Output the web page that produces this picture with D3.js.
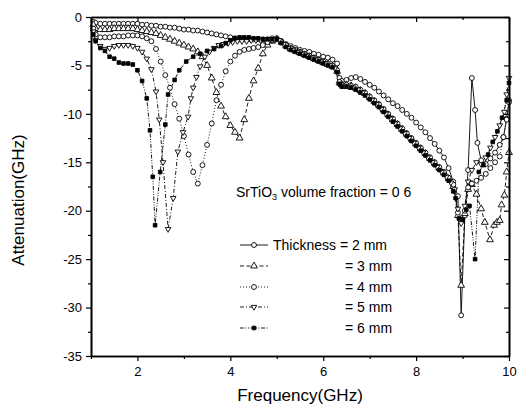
<!DOCTYPE html>
<html><head><meta charset="utf-8">
<script src="https://cdn.jsdelivr.net/npm/d3@7"></script>
<style>body{margin:0;background:#fff}svg{display:block}text{font-family:"Liberation Sans",Arial,sans-serif;fill:#000}</style>
</head><body><svg id="c" width="519" height="411"></svg>
<script>
// ---- data (frequency GHz, attenuation) ----
const seriesNames = ["2 mm","3 mm","4 mm","5 mm","6 mm"];
const xTicks = [2,4,6,8,10];
const yTicks = [0,-5,-10,-15,-20,-25,-30,-35];
const xTickLabels = ["2","4","6","8","10"];
const yTickLabels = ["0","-5","-10","-15","-20","-25","-30","-35"];
const legendLabels = ["Thickness = 2 mm","= 3 mm","= 4 mm","= 5 mm","= 6 mm"];

const t2mm = [[1.05,-0.5],[1.1,-0.6],[1.2,-0.7],[1.3,-0.7],[1.4,-0.7],[1.5,-0.7],[1.6,-0.7],[1.7,-0.7],[1.8,-0.7],[1.9,-0.7],[2.0,-0.7],[2.1,-0.8],[2.2,-0.8],[2.3,-0.9],[2.4,-0.9],[2.5,-1.0],[2.6,-1.0],[2.7,-1.1],[2.8,-1.1],[2.9,-1.2],[3.0,-1.3],[3.1,-1.3],[3.2,-1.4],[3.3,-1.4],[3.4,-1.5],[3.5,-1.6],[3.6,-1.7],[3.7,-1.8],[3.8,-1.9],[3.9,-2.0],[4.0,-2.1],[4.1,-2.2],[4.2,-2.3],[4.3,-2.3],[4.4,-2.3],[4.5,-2.3],[4.6,-2.3],[4.7,-2.3],[4.8,-2.3],[4.9,-2.2],[5.0,-2.2],[5.1,-2.5],[5.2,-2.8],[5.3,-3.0],[5.4,-3.2],[5.5,-3.4],[5.6,-3.5],[5.7,-3.6],[5.8,-3.8],[5.9,-3.9],[6.0,-4.1],[6.1,-4.2],[6.2,-4.4],[6.3,-4.8],[6.35,-6.3],[6.4,-6.6],[6.5,-6.5],[6.6,-6.3],[6.7,-6.2],[6.8,-6.4],[6.9,-6.7],[7.0,-7.0],[7.1,-7.3],[7.2,-7.7],[7.3,-8.1],[7.4,-8.5],[7.5,-8.9],[7.6,-9.2],[7.7,-9.6],[7.8,-10.0],[7.9,-10.4],[8.0,-10.9],[8.1,-11.4],[8.2,-11.9],[8.3,-12.5],[8.4,-13.1],[8.5,-13.8],[8.6,-14.5],[8.7,-15.6],[8.8,-17.0],[8.9,-18.5],[8.97,-30.8],[9.05,-20.5],[9.12,-15.8],[9.2,-6.3],[9.27,-9.6],[9.32,-13.0],[9.4,-14.8],[9.5,-15.2],[9.6,-14.6],[9.7,-14.0],[9.8,-13.2],[9.88,-12.4],[9.95,-10.5],[10.0,-8.6]];

const t3mm = [[1.05,-0.8],[1.1,-1.2],[1.2,-1.3],[1.3,-1.3],[1.4,-1.3],[1.5,-1.2],[1.6,-1.2],[1.7,-1.2],[1.8,-1.2],[1.9,-1.2],[2.0,-1.3],[2.1,-1.4],[2.2,-1.5],[2.3,-1.6],[2.4,-1.7],[2.5,-1.9],[2.6,-2.1],[2.7,-2.3],[2.8,-2.5],[2.9,-2.7],[3.0,-2.9],[3.1,-3.1],[3.2,-3.3],[3.3,-3.6],[3.4,-4.1],[3.5,-5.0],[3.6,-6.3],[3.7,-7.8],[3.8,-9.2],[3.9,-10.3],[4.0,-11.2],[4.1,-11.9],[4.2,-12.5],[4.3,-10.6],[4.4,-8.4],[4.5,-6.6],[4.6,-5.3],[4.7,-3.8],[4.8,-2.9],[4.9,-2.5],[5.0,-2.3],[5.1,-2.6],[5.2,-3.0],[5.3,-3.3],[5.4,-3.5],[5.5,-3.7],[5.6,-3.9],[5.7,-4.1],[5.8,-4.3],[5.9,-4.5],[6.0,-4.7],[6.1,-4.9],[6.2,-5.1],[6.3,-5.6],[6.35,-6.8],[6.4,-7.0],[6.5,-7.0],[6.6,-7.1],[6.7,-7.3],[6.8,-7.6],[6.9,-7.9],[7.0,-8.3],[7.1,-8.7],[7.2,-9.1],[7.3,-9.6],[7.4,-10.1],[7.5,-10.6],[7.6,-11.1],[7.7,-11.6],[7.8,-12.1],[7.9,-12.6],[8.0,-13.1],[8.1,-13.6],[8.2,-14.1],[8.3,-14.6],[8.4,-15.1],[8.5,-15.6],[8.6,-16.1],[8.7,-16.7],[8.8,-17.5],[8.9,-20.5],[8.97,-27.7],[9.05,-20.3],[9.12,-17.8],[9.2,-17.3],[9.3,-18.3],[9.4,-19.8],[9.48,-21.2],[9.59,-23.0],[9.68,-21.5],[9.74,-21.2],[9.8,-21.0],[9.84,-19.4],[9.9,-18.4],[9.95,-16.0],[10.0,-14.0]];

const t4mm = [[1.05,-1.2],[1.1,-1.8],[1.2,-2.1],[1.3,-2.1],[1.4,-2.1],[1.5,-2.0],[1.6,-2.0],[1.7,-2.0],[1.8,-1.9],[1.9,-1.9],[2.0,-1.9],[2.1,-2.0],[2.2,-2.2],[2.3,-2.5],[2.4,-3.3],[2.5,-4.6],[2.6,-6.0],[2.7,-7.3],[2.8,-9.0],[2.9,-10.5],[3.0,-12.3],[3.1,-14.2],[3.2,-16.0],[3.3,-17.2],[3.4,-15.3],[3.5,-13.2],[3.6,-11.0],[3.7,-8.6],[3.8,-7.0],[3.9,-5.6],[4.0,-4.6],[4.1,-4.0],[4.2,-3.6],[4.3,-3.4],[4.4,-3.3],[4.5,-3.2],[4.6,-3.1],[4.7,-2.9],[4.8,-2.6],[4.9,-2.4],[5.0,-2.3],[5.1,-2.6],[5.2,-2.9],[5.3,-3.2],[5.4,-3.4],[5.5,-3.6],[5.6,-3.8],[5.7,-4.0],[5.8,-4.2],[5.9,-4.4],[6.0,-4.6],[6.1,-4.8],[6.2,-5.0],[6.3,-5.5],[6.35,-6.7],[6.4,-7.0],[6.5,-7.0],[6.6,-7.1],[6.7,-7.2],[6.8,-7.5],[6.9,-7.8],[7.0,-8.2],[7.1,-8.6],[7.2,-9.0],[7.3,-9.5],[7.4,-10.0],[7.5,-10.5],[7.6,-11.0],[7.7,-11.5],[7.8,-12.0],[7.9,-12.5],[8.0,-13.0],[8.1,-13.5],[8.2,-14.0],[8.3,-14.5],[8.4,-15.0],[8.5,-15.5],[8.6,-16.0],[8.7,-16.6],[8.8,-17.3],[8.9,-20.2],[8.97,-21.0],[9.05,-20.0],[9.12,-17.6],[9.2,-17.2],[9.3,-16.9],[9.4,-16.6],[9.5,-16.2],[9.6,-15.6],[9.7,-15.0],[9.8,-14.4],[9.88,-12.4],[9.95,-10.6],[10.0,-8.8]];

const t5mm = [[1.05,-1.5],[1.1,-2.4],[1.2,-3.0],[1.3,-3.3],[1.4,-3.2],[1.5,-3.0],[1.6,-2.9],[1.7,-2.9],[1.8,-2.9],[1.9,-3.0],[2.0,-3.2],[2.1,-3.6],[2.2,-4.3],[2.3,-5.4],[2.4,-7.7],[2.47,-10.6],[2.55,-15.0],[2.66,-21.9],[2.77,-18.7],[2.87,-13.9],[2.98,-11.9],[3.09,-10.3],[3.15,-8.4],[3.2,-7.3],[3.27,-6.2],[3.35,-5.1],[3.45,-4.1],[3.55,-3.6],[3.65,-3.2],[3.75,-2.9],[3.85,-2.8],[3.95,-2.7],[4.05,-2.6],[4.15,-2.5],[4.25,-2.5],[4.35,-2.5],[4.45,-2.4],[4.55,-2.4],[4.65,-2.4],[4.75,-2.3],[4.85,-2.3],[4.95,-2.3],[5.05,-2.4],[5.15,-2.8],[5.25,-3.2],[5.35,-3.4],[5.45,-3.6],[5.55,-3.8],[5.65,-4.0],[5.75,-4.2],[5.85,-4.4],[5.95,-4.6],[6.05,-4.8],[6.15,-5.0],[6.25,-5.3],[6.35,-6.9],[6.45,-7.1],[6.55,-7.2],[6.65,-7.3],[6.75,-7.5],[6.85,-7.8],[6.95,-8.2],[7.05,-8.6],[7.15,-9.0],[7.25,-9.5],[7.35,-10.0],[7.45,-10.5],[7.55,-11.0],[7.65,-11.5],[7.75,-12.0],[7.85,-12.5],[7.95,-13.0],[8.05,-13.5],[8.15,-14.0],[8.25,-14.5],[8.35,-15.0],[8.45,-15.5],[8.55,-16.0],[8.65,-16.5],[8.75,-17.1],[8.83,-17.8],[8.9,-19.8],[8.97,-21.3],[9.05,-19.5],[9.12,-17.0],[9.2,-15.8],[9.3,-15.0],[9.4,-15.2],[9.5,-14.5],[9.6,-13.5],[9.7,-12.4],[9.8,-11.2],[9.9,-9.8],[9.95,-8.0],[10.0,-6.3]];

const t6mm = [[1.05,-1.8],[1.1,-2.5],[1.2,-3.2],[1.3,-3.5],[1.4,-4.1],[1.5,-4.3],[1.6,-4.7],[1.7,-4.8],[1.8,-4.8],[1.9,-4.9],[2.0,-5.5],[2.1,-6.6],[2.2,-8.4],[2.27,-11.7],[2.33,-16.5],[2.38,-21.5],[2.49,-16.0],[2.6,-11.1],[2.66,-8.0],[2.8,-6.5],[2.9,-5.5],[3.05,-4.6],[3.2,-4.1],[3.35,-3.8],[3.5,-3.5],[3.65,-3.3],[3.8,-3.0],[3.9,-2.7],[4.0,-2.4],[4.1,-2.2],[4.2,-2.1],[4.3,-2.1],[4.4,-2.1],[4.5,-2.2],[4.6,-2.2],[4.7,-2.3],[4.8,-2.3],[4.9,-2.3],[5.0,-2.3],[5.1,-2.7],[5.2,-3.1],[5.3,-3.4],[5.4,-3.6],[5.5,-3.8],[5.6,-4.0],[5.7,-4.2],[5.8,-4.4],[5.9,-4.6],[6.0,-4.8],[6.1,-5.0],[6.2,-5.2],[6.3,-5.7],[6.35,-6.9],[6.4,-7.2],[6.5,-7.2],[6.6,-7.3],[6.7,-7.5],[6.8,-7.8],[6.9,-8.1],[7.0,-8.5],[7.1,-8.9],[7.2,-9.3],[7.3,-9.8],[7.4,-10.3],[7.5,-10.8],[7.6,-11.3],[7.7,-11.8],[7.8,-12.3],[7.9,-12.8],[8.0,-13.3],[8.1,-13.8],[8.2,-14.3],[8.3,-14.8],[8.4,-15.3],[8.5,-15.8],[8.6,-16.3],[8.7,-16.9],[8.8,-18.0],[8.85,-18.7],[8.92,-20.8],[9.0,-20.9],[9.08,-19.9],[9.15,-19.5],[9.27,-25.0],[9.35,-16.0],[9.45,-15.3],[9.55,-14.2],[9.65,-12.9],[9.75,-11.8],[9.85,-10.4],[9.95,-8.6],[10.0,-6.8]];

const seriesData = [t2mm, t3mm, t4mm, t5mm, t6mm];
const dashes = [null, "4,2.5", "1,2", "4,2,1,2", "4,1.5,1,1.5,1,1.5"];
const symbols = ["circle","triangle","circle","triangleDown","square"];
const fills = ["#fff","#fff","#fff","#fff","#000"];

// ---- chart ----
const svg = d3.select("#c");
const x = d3.scaleLinear().domain([1,10]).range([91,509]);
const y = d3.scaleLinear().domain([-35,0]).range([356,17]);

function sym(name){
  if(name==="circle") return d3.symbol().type(d3.symbolCircle).size(19)();
  if(name==="triangle") return d3.symbol().type(d3.symbolTriangle).size(20)();
  if(name==="square") return d3.symbol().type(d3.symbolSquare).size(13)();
  // down triangle
  return "M0,3.2L2.8,-1.6L-2.8,-1.6Z";
}

const line = d3.line().x(d=>x(d[0])).y(d=>y(d[1]));
const plot = svg.append("g");
seriesData.forEach((s,i)=>{
  plot.append("path").datum(s).attr("d",line).attr("fill","none")
    .attr("stroke","#000").attr("stroke-width",0.9)
    .attr("stroke-dasharray",dashes[i]);
});
seriesData.forEach((s,i)=>{
  plot.selectAll(null).data(s).enter().append("path")
    .attr("d",sym(symbols[i]))
    .attr("transform",d=>`translate(${x(d[0])},${y(d[1])})`)
    .attr("fill",fills[i]).attr("stroke","#000").attr("stroke-width",0.9);
});

// axes
const xMinor = [1,3,5,7,9];
const yMinor = d3.range(-32.5,0,5);
const bottom = svg.append("g").attr("transform","translate(0,356)")
  .call(d3.axisBottom(x).tickValues(xTicks).tickFormat((d,i)=>xTickLabels[i]).tickSize(5).tickSizeOuter(0));
svg.append("g").attr("transform","translate(0,356)")
  .call(d3.axisBottom(x).tickValues(xMinor).tickFormat("").tickSize(3).tickSizeOuter(0));
const left = svg.append("g").attr("transform","translate(91,0)")
  .call(d3.axisLeft(y).tickValues(yTicks).tickFormat((d,i)=>yTickLabels[i]).tickSize(5).tickSizeOuter(0));
svg.append("g").attr("transform","translate(91,0)")
  .call(d3.axisLeft(y).tickValues(yMinor).tickFormat("").tickSize(3).tickSizeOuter(0));
svg.append("g").attr("transform","translate(0,17)")
  .call(d3.axisBottom(x).tickValues(xTicks).tickFormat("").tickSize(5).tickSizeOuter(0));
svg.append("g").attr("transform","translate(0,17)")
  .call(d3.axisBottom(x).tickValues(xMinor).tickFormat("").tickSize(3).tickSizeOuter(0));
svg.append("g").attr("transform","translate(509,0)")
  .call(d3.axisLeft(y).tickValues(yTicks).tickFormat("").tickSize(5).tickSizeOuter(0));
svg.append("g").attr("transform","translate(509,0)")
  .call(d3.axisLeft(y).tickValues(yMinor).tickFormat("").tickSize(3).tickSizeOuter(0));
svg.selectAll(".domain").attr("stroke","#000").attr("stroke-width",1.6);
svg.selectAll(".tick line").attr("stroke","#000").attr("stroke-width",1.2);
bottom.selectAll("text").attr("font-size",13).attr("dy","0.9em").attr("font-family","Liberation Sans, Arial");
left.selectAll("text").attr("font-size",13).attr("font-family","Liberation Sans, Arial").attr("dx","-1");

// axis titles
svg.append("text").attr("x",300).attr("y",401).attr("text-anchor","middle")
  .attr("font-size",17).text("Frequency(GHz)");
svg.append("text").attr("transform","translate(24,200) rotate(-90)").attr("text-anchor","middle")
  .attr("font-size",17).text("Attenuation(GHz)");

// annotation
const ann = svg.append("text").attr("x",236).attr("y",197).attr("font-size",14);
ann.append("tspan").text("SrTiO");
ann.append("tspan").attr("font-size",9).attr("dy",3).text("3");
ann.append("tspan").attr("dy",-3).text(" volume fraction = 0 6");

// legend
const ly = [245,266,287,307,328];
seriesData.forEach((s,i)=>{
  svg.append("line").attr("x1",240).attr("x2",268).attr("y1",ly[i]).attr("y2",ly[i])
    .attr("stroke","#000").attr("stroke-width",0.9).attr("stroke-dasharray",dashes[i]);
  svg.append("path").attr("d",sym(symbols[i])).attr("transform",`translate(254,${ly[i]})`)
    .attr("fill",fills[i]).attr("stroke","#000").attr("stroke-width",0.9);
  svg.append("text").attr("x",i===0?273:345).attr("y",ly[i]+5).attr("font-size",14).text(legendLabels[i]);
});
</script></body></html>
